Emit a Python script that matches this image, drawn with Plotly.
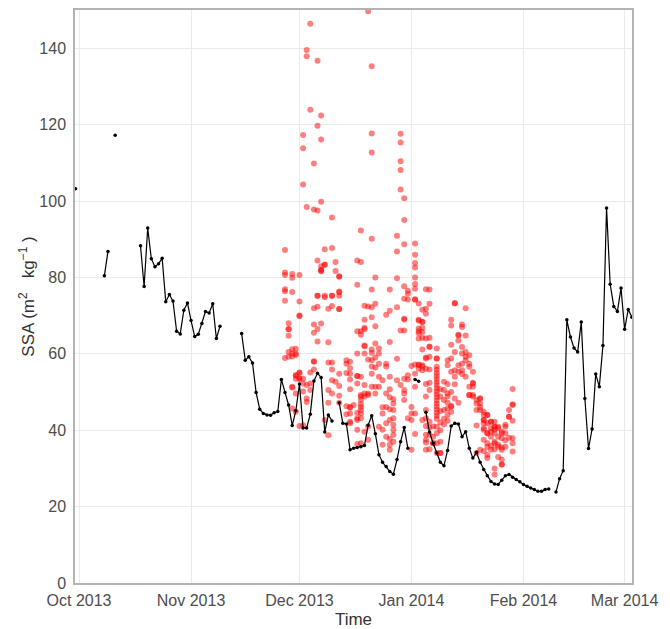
import pandas as pd
import plotly.graph_objects as go

# daily SSA, 2013-09-30 .. 2014-03-03 (None = no data)
black_start = "2013-09-30"
black_ssa = (
    [103.2]
    # Oct
    + [None, None, None, None, None, None, None, 80.4, 86.8, None, 117.2,
       None, None, None, None, None, None, 88.3, 77.6, 92.9, 84.9, 82.8,
       83.6, 85.0, 73.6, 75.5, 73.8, 65.9, 65.2, 71.4, 73.3]
    # Nov
    + [68.7, 64.5, 65.1, 67.9, 71.1, 70.7, 73.1, 64.0, 67.2, None, None,
       None, None, None, 65.3, 58.3, 59.2, 57.6, 49.9, 45.5, 44.4, 44.0,
       43.9, 44.6, 44.9, 53.3, 49.9, 46.6, 41.2, 45.1]
    # Dec
    + [52.1, 40.6, 40.6, 44.2, 52.9, 54.9, 53.8, 39.5, 44.0, 42.4, None,
       47.2, 41.8, 41.6, 34.9, 35.3, 35.5, 35.7, 36.0, 41.3, 43.8, 39.1,
       33.6, 31.6, 30.5, 29.2, 28.5, 32.3, 37.0, 40.7, 35.3]
    # Jan
    + [None, 53.3, 52.8, None, 44.7, 39.5, 36.6, 34.0, 31.6, 30.7, 34.7,
       41.1, 41.8, 41.6, 38.3, 39.6, 35.3, 32.7, 34.2, 31.6, 29.7, 28.1,
       26.6, 25.9, 25.8, 26.9, 28.1, 28.4, 27.7, 27.1, 26.5]
    # Feb
    + [25.8, 25.3, 24.9, 24.5, 24.0, 24.0, 24.5, 24.6, None, 23.8, 27.3,
       29.4, 68.9, 64.4, 61.5, 60.5, 68.3, 48.3, 35.2, 40.3, 54.7, 51.4,
       62.2, 98.2, 78.2, 72.4, 71.1, 77.2]
    # Mar
    + [66.4, 71.6, 69.6]
)

# individual SSA samples: day = days since 2013-10-01
red_start = "2013-10-01"
red_day = (
    [57] * 7 + [58] * 6 + [59] * 9 + [60] * 8 + [61] * 9 + [62] * 7
    + [63] * 6 + [64] * 5 + [65] * 8 + [66] * 9 + [67] * 8 + [68] * 6
    + [69] * 6 + [70] * 9 + [71] * 3 + [72] * 11 + [74] * 5 + [75] * 10
    + [76] * 1 + [77] * 12 + [78] * 14 + [79] * 11 + [80] * 7 + [81] * 13
    + [82] * 8 + [83] * 6 + [84] * 5 + [85] * 7 + [86] * 11 + [87] * 8
    + [88] * 6 + [89] * 7 + [90] * 12 + [91] * 6 + [92] * 5 + [93] * 14
    + [94] * 10 + [95] * 11 + [96] * 16 + [97] * 13 + [98] * 4 + [99] * 25
    + [100] * 8 + [101] * 6 + [102] * 9 + [103] * 9 + [104] * 7 + [105] * 6
    + [106] * 7 + [107] * 6 + [108] * 6 + [109] * 6 + [110] * 5 + [111] * 6
    + [112] * 9 + [113] * 9 + [114] * 7 + [115] * 10 + [116] * 6 + [117] * 8
    + [118] * 5 + [119] * 4 + [120] * 7
)
red_ssa = [
    87.2, 81.3, 80.6, 76.9, 76.4, 73.9, 58.9,
    68.0, 66.4, 66.5, 64.7, 60.5, 59.2,
    80.9, 79.9, 76.2, 61.2, 60.1, 59.3, 51.4, 51.2, 45.7,
    61.3, 59.7, 54.4, 54.3, 53.5, 49.6, 44.8, 60.1,
    80.6, 73.7, 70.0, 69.9, 55.1, 55.0, 53.5, 53.5, 41.1,
    117.3, 113.8, 104.3, 53.5, 52.2, 50.1, 41.3,
    139.5, 137.9, 98.4, 51.8, 48.3, 47.4,
    146.4, 123.9, 55.1, 52.2, 50.5,
    109.8, 97.8, 71.9, 67.7, 65.5, 58.0, 58.0, 55.9,
    136.7, 119.7, 97.5, 84.4, 75.2, 75.2, 72.3, 66.5, 63.2,
    122.4, 116.1, 99.8, 82.9, 82.0, 81.8, 81.6, 67.9,
    87.4, 83.3, 83.3, 74.8, 75.2, 42.7,
    71.8, 63.0, 57.7, 50.5, 47.2, 38.7,
    95.7, 87.7, 75.2, 75.2, 72.5, 57.7, 55.9, 53.1, 49.6,
    84.0, 81.7, 52.7,
    80.3, 80.2, 76.3, 76.1, 75.2, 71.7, 71.7, 54.8, 51.6, 49.0, 47.2,
    58.3, 57.4, 55.0, 46.3, 44.2,
    57.9, 56.2, 54.8, 53.3, 50.7, 46.1, 45.9, 44.4, 42.2, 41.8,
    46.6,
    84.4, 78.1, 65.9, 60.1, 54.2, 54.2, 52.2, 44.6, 43.1, 42.7, 40.1, 36.4,
    92.3, 84.0, 65.9, 65.0, 54.0, 49.2, 48.8, 47.9, 46.8, 46.1, 45.3, 44.4,
    43.1, 36.6,
    72.6, 68.9, 66.8, 66.4, 62.2, 62.0, 60.1, 51.8, 49.6, 48.8, 39.6,
    149.7, 72.4, 58.5, 49.6, 49.2, 41.0, 37.5,
    135.3, 117.7, 112.7, 90.1, 76.8, 72.2, 69.6, 61.1, 60.3, 58.3, 56.7,
    54.8, 51.4,
    80.0, 73.1, 67.2, 62.7, 59.0, 56.4, 51.4, 49.6,
    61.4, 60.1, 57.4, 54.0, 51.4, 40.9,
    53.1, 46.0, 44.4, 40.1, 36.2,
    70.2, 57.4, 56.7, 49.6, 46.1, 41.8, 38.3,
    76.8, 71.3, 63.1, 54.0, 50.7, 48.6, 45.5, 42.7, 37.7, 36.2, 34.9,
    48.1, 47.0, 45.3, 43.1, 41.4, 40.1, 38.8, 37.0,
    90.9, 86.8, 79.8, 72.2, 58.7, 53.1,
    117.6, 115.3, 110.4, 108.1, 103.0, 66.1, 51.8,
    100.7, 95.0, 88.7, 77.7, 74.4, 69.2, 69.0, 66.1, 53.5, 50.5, 49.6, 47.9,
    76.5, 75.7, 74.2, 54.4, 53.3, 43.1,
    56.8, 46.1, 44.4, 42.7, 34.9,
    88.9, 85.9, 83.8, 82.6, 80.0, 78.3, 77.0, 74.2, 74.2, 57.2, 54.8, 51.4,
    44.4, 39.0,
    73.2, 68.9, 68.7, 66.6, 65.9, 65.4, 64.0, 57.2, 57.0, 56.1,
    71.5, 68.4, 68.3, 66.8, 65.7, 64.2, 61.1, 57.0, 56.7, 55.7, 42.7,
    76.9, 71.8, 70.5, 64.0, 59.0, 58.8, 56.1, 52.1, 48.8, 45.3, 43.1, 41.1,
    38.8, 37.5, 36.8, 34.9,
    76.8, 73.1, 64.2, 61.9, 61.8, 59.2, 55.9, 52.4, 50.5, 42.2, 40.8, 38.8,
    35.0,
    41.0, 38.3, 36.6, 36.6,
    61.4, 58.8, 58.8, 56.6, 55.8, 55.0, 54.2, 53.4, 52.6, 51.8, 51.0, 50.2,
    49.4, 48.6, 47.8, 47.0, 46.2, 45.4, 44.6, 43.8, 43.0, 40.9, 39.2, 36.6,
    34.0,
    50.7, 48.8, 45.0, 42.0, 40.0, 37.0, 34.0, 34.0,
    52.7, 50.5, 47.9, 45.3, 43.0, 41.5,
    58.3, 57.0, 52.1, 49.6, 48.8, 47.2, 45.7, 44.0, 42.5,
    68.9, 67.4, 62.4, 58.8, 55.3, 50.0, 46.3, 46.3, 44.8,
    73.3, 73.2, 60.5, 55.7, 54.0, 52.0, 48.3,
    65.0, 64.8, 63.5, 57.0, 55.3, 47.2,
    67.7, 67.0, 61.8, 60.1, 57.4, 55.7, 54.7,
    71.9, 64.8, 60.5, 59.2, 58.3, 54.0,
    59.6, 57.4, 56.6, 51.4, 49.2, 49.2,
    55.3, 52.4, 52.2, 51.4, 49.2, 48.8,
    47.9, 47.0, 45.3, 41.2, 34.0,
    48.3, 48.3, 47.0, 46.1, 45.3, 34.9,
    44.8, 44.0, 42.7, 42.7, 41.8, 40.5, 40.1, 37.5, 34.5,
    44.0, 44.0, 41.8, 39.2, 39.2, 36.6, 35.7, 33.5, 32.7,
    42.2, 42.2, 40.5, 39.6, 38.3, 35.9, 34.9,
    42.2, 40.9, 40.9, 40.1, 39.2, 37.0, 36.6, 35.0, 30.0, 28.4,
    40.9, 40.5, 38.3, 36.2, 35.7, 33.0,
    39.6, 39.2, 37.9, 35.5, 34.9, 32.3, 31.0, 31.0,
    41.4, 40.9, 39.2, 37.4, 35.7,
    45.3, 43.5, 43.5, 38.0,
    50.8, 46.8, 46.6, 42.5, 37.9, 36.6, 34.4,
]

black_x = pd.date_range(black_start, periods=len(black_ssa), freq="D")
red_x = pd.Timestamp(red_start) + pd.to_timedelta(red_day, unit="D")

fig = go.Figure()
fig.add_trace(go.Scatter(
    x=red_x, y=red_ssa, mode="markers",
    marker=dict(color="rgba(255,0,0,0.5)", size=6, line=dict(width=0)),
    showlegend=False,
))
fig.add_trace(go.Scatter(
    x=black_x, y=black_ssa, mode="lines+markers",
    line=dict(color="black", width=1.2),
    marker=dict(color="black", size=3.5),
    connectgaps=False, showlegend=False,
))

# page body adds 8px, margins account for that
fig.update_layout(
    width=670, height=629,
    margin=dict(l=67, r=46, t=0, b=54),
    plot_bgcolor="white", paper_bgcolor="white",
    font=dict(family="Liberation Sans, Arial, sans-serif", size=16, color="#4d4d4d"),
)
fig.update_xaxes(
    range=["2013-09-29 21:00", "2014-03-03 01:00"],
    dtick="M1", tick0="2013-10-01", tickformat="%b %Y",
    showgrid=True, gridcolor="#ebebeb", gridwidth=1,
    showline=True, linecolor="#b3b3b3", linewidth=1.5, mirror=True,
    ticks="", zeroline=False, ticklabelstandoff=2,
    title=dict(text="Time", font=dict(size=17, color="#333333"), standoff=5),
)
fig.update_yaxes(
    range=[0, 150], tickvals=[0, 20, 40, 60, 80, 100, 120, 140],
    showgrid=True, gridcolor="#ebebeb", gridwidth=1,
    showline=True, linecolor="#b3b3b3", linewidth=1.5, mirror=True,
    ticks="", zeroline=False, ticklabelstandoff=4,
    title=dict(text="SSA (m<sup>2</sup>   kg<sup>−1</sup> )", font=dict(size=17, color="#333333"), standoff=0),
)

fig.write_html("out.html")
